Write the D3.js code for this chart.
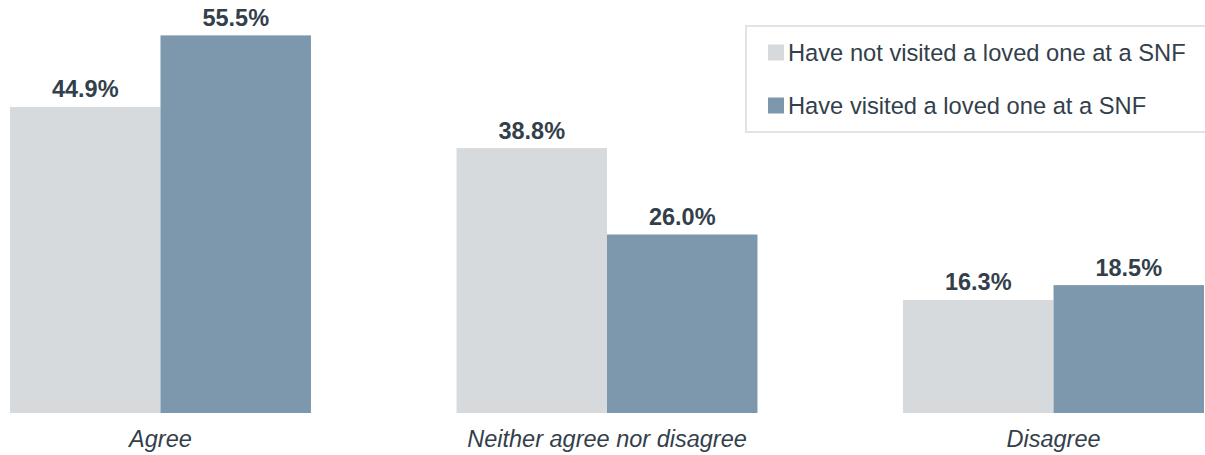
<!DOCTYPE html>
<html><head><meta charset="utf-8">
<script src="https://cdn.jsdelivr.net/npm/d3@7"></script>
<style>html,body{margin:0;padding:0;background:#fff;}svg{display:block;}</style>
</head><body>
<svg id="chart" width="1205" height="455"></svg>
<script>
const categories = ["Agree", "Neither agree nor disagree", "Disagree"];
const seriesNames = ["Have not visited a loved one at a SNF", "Have visited a loved one at a SNF"];
const notVisited = [44.9, 38.8, 16.3];
const visited = [55.5, 26.0, 18.5];
const colors = ["#d6dadc", "#7d98ad"];
const textColor = "#333f4b";

const svg = d3.select("#chart");
const font = "Liberation Sans, Arial, sans-serif";

const x0 = d3.scaleBand().domain(categories).range([10, 1204]).paddingInner(0.326).paddingOuter(0);
const x1 = d3.scaleBand().domain([0, 1]).range([0, x0.bandwidth()]).padding(0);
const y = d3.scaleLinear().domain([0, 60]).range([410, 410 - 60 * 6.75]);
const barExtra = 3;

const rows = categories.map((c, i) => ({cat: c, vals: [notVisited[i], visited[i]]}));

const g = svg.append("g");
const groups = g.selectAll("g.grp").data(rows).join("g")
  .attr("transform", d => `translate(${x0(d.cat)},0)`);

groups.selectAll("rect").data(d => d.vals.map((v, k) => ({v, k}))).join("rect")
  .attr("x", d => x1(d.k))
  .attr("width", x1.bandwidth())
  .attr("y", d => y(d.v))
  .attr("height", d => y(0) - y(d.v) + barExtra)
  .attr("fill", d => colors[d.k]);

groups.selectAll("text.val").data(d => d.vals.map((v, k) => ({v, k}))).join("text")
  .attr("class", "val")
  .attr("x", d => x1(d.k) + x1.bandwidth() / 2)
  .attr("y", d => y(d.v) - 9.5)
  .attr("text-anchor", "middle")
  .attr("font-family", font)
  .attr("font-weight", "bold")
  .attr("font-size", 23.5)
  .attr("fill", textColor)
  .text(d => d.v.toFixed(1) + "%");

// category axis labels
const xAxis = d3.axisBottom(x0).tickSize(0).tickPadding(0);
const ax = svg.append("g").attr("transform", "translate(0,446.5)").call(xAxis);
ax.select(".domain").remove();
ax.selectAll("text")
  .attr("y", 0)
  .attr("dy", 0)
  .attr("font-family", font)
  .attr("font-style", "italic")
  .attr("font-size", 23.5)
  .attr("fill", textColor);

// legend
const lg = svg.append("g");
lg.append("rect").attr("x", 746).attr("y", 26).attr("width", 470).attr("height", 106)
  .attr("fill", "#fff").attr("stroke", "#e3e3e3").attr("stroke-width", 2);
const ly = [60.5, 113.5];
seriesNames.forEach((s, i) => {
  lg.append("rect").attr("x", 768).attr("y", ly[i] - 16).attr("width", 16).attr("height", 16).attr("fill", colors[i]);
  lg.append("text").attr("x", 788).attr("y", ly[i])
    .attr("font-family", font).attr("font-size", 23.7).attr("fill", textColor).text(s);
});
</script>
</body></html>
